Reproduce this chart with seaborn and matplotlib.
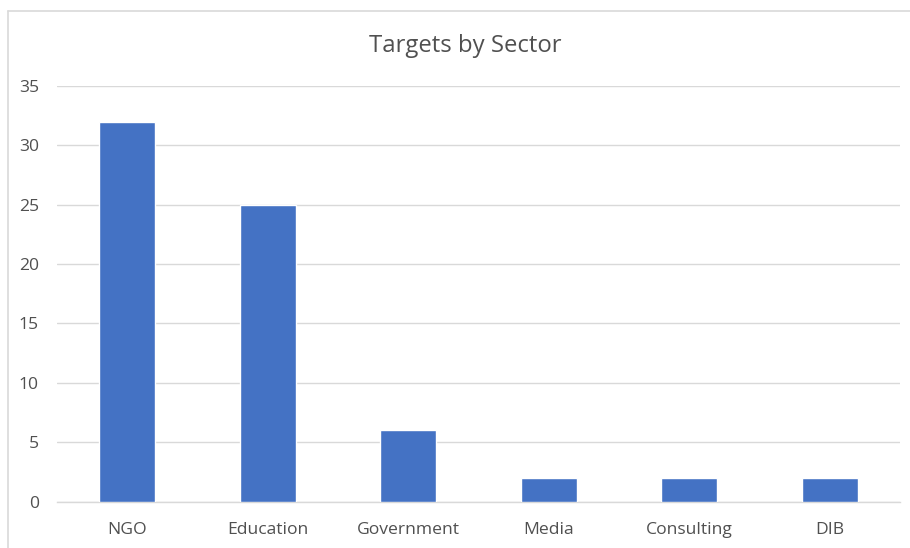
import matplotlib
matplotlib.use("Agg")
import matplotlib.pyplot as plt
import seaborn as sns
import pandas as pd
from matplotlib.lines import Line2D

categories = ["NGO", "Education", "Government", "Media", "Consulting", "DIB"]
values = [32, 25, 6, 2, 2, 2]
yticks = [0, 5, 10, 15, 20, 25, 30, 35]

sns.set_theme(style="white")
plt.rcParams['font.family'] = ['Open Sans', 'DejaVu Sans']

df = pd.DataFrame({"Sector": categories, "Targets": values})

W, H = 910, 548
fig = plt.figure(figsize=(W / 100, H / 100), dpi=100)
ax = fig.add_axes([57 / W, 1 - 501.5 / H, (900 - 57) / W, (501.5 - 86) / H])

sns.barplot(data=df, x="Sector", y="Targets", color="#4472C4", width=0.4,
            saturation=1, ax=ax, zorder=3)

ax.set_ylim(0, 35)
ax.set_xlim(-0.5, len(categories) - 0.5)
ax.set_yticks(yticks)
ax.yaxis.grid(True, color="#D9D9D9", linewidth=1, zorder=0)
ax.xaxis.grid(False)
for s in ["top", "right", "left"]:
    ax.spines[s].set_visible(False)
ax.spines["bottom"].set_color("#D9D9D9")
ax.spines["bottom"].set_linewidth(1)
ax.tick_params(axis="both", length=0, colors="#505050", labelsize=12.6)
ax.tick_params(axis="y", pad=13)
ax.tick_params(axis="x", pad=15)
ax.set_xlabel("")
ax.set_ylabel("")

fig.text(0.511, 1 - 46.5 / H, "Targets by Sector", ha="center", va="center",
         fontsize=17.2, color="#505050")

# chart border
fig.add_artist(Line2D([8 / W, 8 / W], [0, 1 - 11 / H], color="#D9D9D9", linewidth=1.2,
                      transform=fig.transFigure))
fig.add_artist(Line2D([8 / W, 1], [1 - 11 / H, 1 - 11 / H], color="#D9D9D9", linewidth=1.2,
                      transform=fig.transFigure))

fig.savefig("out.png", dpi=100, facecolor="white")
